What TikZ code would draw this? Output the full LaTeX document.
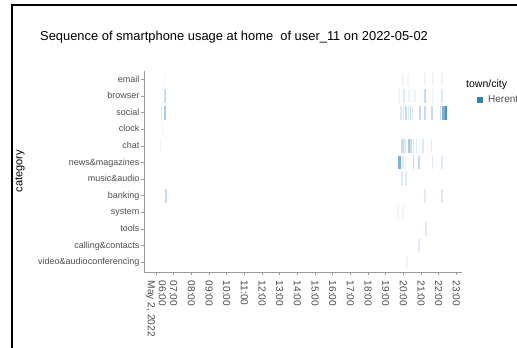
\documentclass[tikz,border=0pt]{standalone}
\usepackage{fontspec}
\setmainfont{Liberation Sans}
\definecolor{tA}{HTML}{F0F5FB}
\definecolor{tB}{HTML}{DEEAF6}
\definecolor{tC}{HTML}{C6DBEF}
\definecolor{tD}{HTML}{A6C9E6}
\definecolor{tE}{HTML}{7DAFDA}
\definecolor{tF}{HTML}{4A8DC8}
\definecolor{keycol}{HTML}{3182BD}
\definecolor{axiscol}{HTML}{9A9A9A}
\definecolor{labcol}{HTML}{4D4D4D}
\begin{document}
\begin{tikzpicture}[x=1pt,y=-1pt,
  ylab/.style={anchor=mid east,inner sep=0pt,text=labcol,font=\fontsize{9}{10}\selectfont},
  xlab/.style={anchor=west,rotate=-90,inner sep=0pt,text=labcol,align=left,font=\fontsize{10.2}{11}\selectfont},
  axisline/.style={draw=axiscol,line width=0.6pt}]
\useasboundingbox (0,0) rectangle (517,348);
\fill[white] (0,0) rectangle (517,348);
% frame
\draw[line width=1.7pt] (12,349) -- (12,5) -- (518,5);
% title
\node[anchor=base west,inner sep=0pt,font=\fontsize{12.9}{14}\selectfont] (title) at (40,40)
  {Sequence of smartphone usage at home\ \ of user\_11 on 2022-05-02};
% tiles
\foreach \x/\r/\w/\c in {
  164.5/0/1.2/tA, 164.8/1/2/tC, 161.5/2/1/tB, 165/2/2/tD, 162.5/3/1/tA, 160/4/1/tA, 166/7/1.5/tC,
  403/0/1.2/tA, 408/0/1.2/tA, 425/0/1.2/tA, 433/0/1.2/tA, 442/0/1.2/tA,
  399/1/1.2/tA, 404/1/1.2/tB, 409/1/1.2/tA, 415/1/1.2/tA, 425/1/1.5/tC, 433/1/1.2/tA, 442/1/1.2/tB,
  401/2/1.2/tB, 403.5/2/1.6/tB, 406/2/1.6/tC, 408.2/2/1.4/tB, 410.3/2/1.6/tC, 412.5/2/1.4/tB,
  420/2/1.3/tC, 425/2/1.3/tC, 432/2/1.3/tC, 440.5/2/1.4/tC, 443.6/2/2.4/tE, 446.2/2/2/tF,
  402.6/4/2.4/tC, 404.9/4/1.4/tB, 408.8/4/2.2/tD, 411.2/4/2/tC, 413.3/4/1.2/tB, 416.7/4/1.2/tB, 423/4/1.2/tB, 431.7/4/1.2/tB,
  399.8/5/3/tE, 403/5/1.2/tB, 405.5/5/1.2/tA, 413.5/5/1.5/tC, 419/5/1.5/tC, 432.5/5/1.2/tB, 442/5/1.2/tB,
  402/6/1.2/tB, 406/6/1.2/tB,
  425/7/1.2/tB, 442/7/1.2/tB,
  398/8/1.2/tA, 403/8/1.2/tA,
  426/9/1.2/tB,
  419/10/1.2/tB,
  407/11/1.2/tA}
  \fill[\c] ({\x-\w/2},{79.5+16.6*\r-6.8}) rectangle ({\x+\w/2},{79.5+16.6*\r+6.8});
% axes
\draw[axisline] (144,70.5) -- (144,272) -- (462,272);
% y labels and ticks
\foreach \lab [count=\i from 0] in {email,browser,social,clock,chat,news\&magazines,music\&audio,banking,system,tools,calling\&contacts,video\&audioconferencing}{
  \draw[axisline] (141,{79.5+16.6*\i}) -- (144,{79.5+16.6*\i});
  \node[ylab] (y\i) at (139.5,{79.5+16.6*\i}) {\lab};
}
% x ticks and labels
\foreach \h [count=\i from 0] in {07,08,09,10,11,12,13,14,15,16,17,18,19,20,21,22,23}{
  \draw[axisline] ({173.67+17.67*\i},272) -- ({173.67+17.67*\i},275);
  \node[xlab] (x\i) at ({173.67+17.67*\i},280.5) {\h:00};
}
\draw[axisline] (156,272) -- (156,275);
\node[xlab] (xfirst) at (156,280.5) {06:00\\May 2, 2022};
% axis title
\node[rotate=90,inner sep=0pt,font=\fontsize{11}{13}\selectfont] (ytitle) at (20,171) {category};
% legend
\node[anchor=base west,inner sep=0pt,font=\fontsize{10.5}{12}\selectfont] (legtitle) at (466,87) {town/city};
\fill[keycol] (476.5,97) rectangle (482.5,103);
\node[anchor=mid west,inner sep=0pt,text=labcol,font=\fontsize{10}{11}\selectfont] (legitem) at (488,100) {Herent};
\end{tikzpicture}
\end{document}
